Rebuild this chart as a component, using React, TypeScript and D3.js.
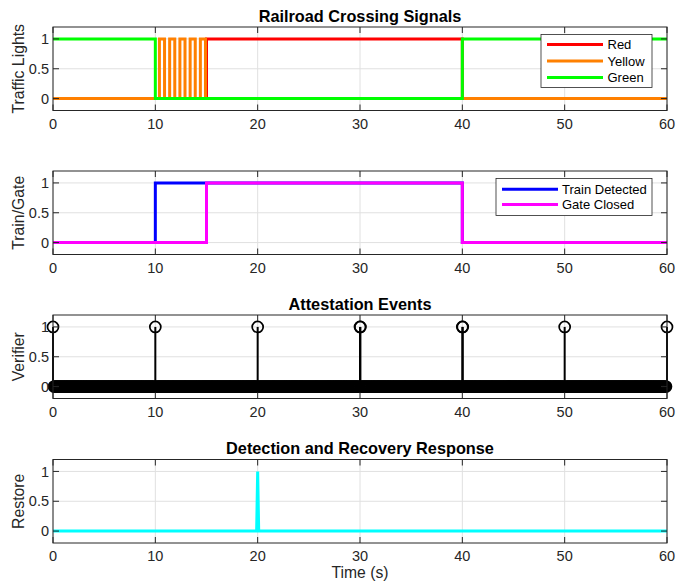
import React from "react";
import * as d3 from "d3";

// ---- Data ----
const xTicks = [0, 10, 20, 30, 40, 50, 60];
const yTicks = [0, 0.5, 1];

// Subplot 1: traffic lights (time, value) breakpoints
const redT = [0, 15, 15, 40, 40, 60];
const redV = [0, 0, 1, 1, 0, 0];
const yellowT = [0, 10.4, 10.4, 10.9, 10.9, 11.4, 11.4, 11.9, 11.9, 12.4, 12.4, 12.9, 12.9, 13.4, 13.4, 13.9, 13.9, 14.4, 14.4, 14.9, 14.9, 60];
const yellowV = [0, 0, 1, 1, 0, 0, 1, 1, 0, 0, 1, 1, 0, 0, 1, 1, 0, 0, 1, 1, 0, 0];
const greenT = [0, 10, 10, 40, 40, 60];
const greenV = [1, 1, 0, 0, 1, 1];

// Subplot 2: train / gate
const trainT = [0, 10, 10, 40, 40, 60];
const trainV = [0, 0, 1, 1, 0, 0];
const gateT = [0, 15, 15, 40, 40, 60];
const gateV = [0, 0, 1, 1, 0, 0];

// Subplot 3: attestation events (stem), sampled every 0.1 s
const sampleStep = 0.1;
const attestEvents = [0, 10, 20, 30, 30.04, 40, 40.04, 50, 60];

// Subplot 4: restore
const restoreT = [0, 19.9, 20, 20.1, 60];
const restoreV = [0, 0, 1, 0, 0];

const X0 = 53, X1 = 667, H = 83.5;
const tops = [27, 171, 315, 459.5];
const FONT = "'Liberation Sans', Arial, Helvetica, sans-serif";
const AX = "#262626";

const x = d3.scaleLinear().domain([0, 60]).range([X0, X1]);

function Axes({ top, title, ylabel, children }: any) {
  const y = d3.scaleLinear().domain([-0.2, 1.2]).range([top + H, top]);
  const bottom = top + H;
  return (
    <g>
      {xTicks.map((t) => (
        <line key={"gx" + t} x1={x(t)} x2={x(t)} y1={top} y2={bottom} stroke="#e0e0e0" strokeWidth={1} />
      ))}
      {yTicks.map((t) => (
        <line key={"gy" + t} x1={X0} x2={X1} y1={y(t)} y2={y(t)} stroke="#e0e0e0" strokeWidth={1} />
      ))}
      {children(y)}
      <rect x={X0} y={top} width={X1 - X0} height={H} fill="none" stroke={AX} strokeWidth={1} />
      {xTicks.map((t) => (
        <g key={"tx" + t}>
          <line x1={x(t)} x2={x(t)} y1={bottom} y2={bottom - 6} stroke={AX} />
          <line x1={x(t)} x2={x(t)} y1={top} y2={top + 6} stroke={AX} />
          <text x={x(t)} y={bottom + 18} textAnchor="middle" fontSize={14.5} fill={AX} fontFamily={FONT}>{t}</text>
        </g>
      ))}
      {yTicks.map((t) => (
        <g key={"ty" + t}>
          <line x1={X0} x2={X0 + 6} y1={y(t)} y2={y(t)} stroke={AX} />
          <line x1={X1} x2={X1 - 6} y1={y(t)} y2={y(t)} stroke={AX} />
          <text x={X0 - 4} y={y(t)} dy="0.36em" textAnchor="end" fontSize={14.5} fill={AX} fontFamily={FONT}>{t}</text>
        </g>
      ))}
      {title && (
        <text x={(X0 + X1) / 2} y={top - 5.5} textAnchor="middle" fontSize={16.3} fontWeight="bold" fill="#000" fontFamily={FONT}>{title}</text>
      )}
      <text transform={`translate(18,${top + H / 2}) rotate(-90)`} dy="0.35em" textAnchor="middle" fontSize={15.8} fill={AX} fontFamily={FONT}>{ylabel}</text>
    </g>
  );
}

function path(ts: number[], vs: number[], y: any) {
  const line = d3.line<number>().x((_, i) => x(ts[i])).y((_, i) => y(vs[i]));
  return line(ts) || "";
}

function Legend({ x0, y0, w, h, items, lineX0, lineX1, textX, rowYs }: any) {
  return (
    <g>
      <rect x={x0} y={y0} width={w} height={h} fill="#fff" stroke={AX} strokeWidth={0.8} />
      {items.map((it: any, i: number) => (
        <g key={it.label}>
          <line x1={lineX0} x2={lineX1} y1={rowYs[i]} y2={rowYs[i]} stroke={it.color} strokeWidth={3} />
          <text x={textX} y={rowYs[i]} dy="0.35em" fontSize={13} fill="#000" fontFamily={FONT}>{it.label}</text>
        </g>
      ))}
    </g>
  );
}

export default function App() {
  const samples = d3.range(0, 60 + sampleStep / 2, sampleStep);
  const isEvent = (t: number) => attestEvents.some((e) => Math.abs(e - t) < 1e-6);
  return (
    <svg width={686} height={582} style={{ display: "block", position: "absolute", left: 0, top: 0 }}>
      <rect width={686} height={582} fill="#fff" />
      <Axes top={tops[0]} title="Railroad Crossing Signals" ylabel="Traffic Lights">
        {(y: any) => (
          <g fill="none" strokeWidth={3}>
            <path d={path(redT, redV, y)} stroke="#ff0000" />
            <path d={path(yellowT, yellowV, y)} stroke="#ff8000" />
            <path d={path(greenT, greenV, y)} stroke="#00ff00" />
          </g>
        )}
      </Axes>
      <Legend x0={541} y0={34.5} w={111} h={53} lineX0={547} lineX1={603} textX={607.5} rowYs={[44.5, 61, 77.5]}
        items={[{ label: "Red", color: "#ff0000" }, { label: "Yellow", color: "#ff8000" }, { label: "Green", color: "#00ff00" }]} />

      <Axes top={tops[1]} ylabel="Train/Gate">
        {(y: any) => (
          <g fill="none" strokeWidth={3}>
            <path d={path(trainT, trainV, y)} stroke="#0000ff" />
            <path d={path(gateT, gateV, y)} stroke="#ff00ff" />
          </g>
        )}
      </Axes>
      <Legend x0={496} y0={178.5} w={156} h={37} lineX0={502} lineX1={558} textX={562} rowYs={[189.3, 204.5]}
        items={[{ label: "Train Detected", color: "#0000ff" }, { label: "Gate Closed", color: "#ff00ff" }]} />

      <Axes top={tops[2]} title="Attestation Events" ylabel="Verifier">
        {(y: any) => (
          <g>
            {attestEvents.map((t) => (
              <line key={"s" + t} x1={x(t)} x2={x(t)} y1={y(0)} y2={y(1)} stroke="#000" strokeWidth={2} />
            ))}
            {samples.filter((t) => !isEvent(t)).map((t) => (
              <circle key={"c" + t} cx={x(t)} cy={y(0)} r={5.5} fill="none" stroke="#000" strokeWidth={1.7} />
            ))}
            {attestEvents.map((t) => (
              <circle key={"e" + t} cx={x(t)} cy={y(1)} r={5.5} fill="none" stroke="#000" strokeWidth={1.7} />
            ))}
          </g>
        )}
      </Axes>

      <Axes top={tops[3]} title="Detection and Recovery Response" ylabel="Restore">
        {(y: any) => (
          <path d={path(restoreT, restoreV, y)} fill="none" stroke="#00ffff" strokeWidth={3} />
        )}
      </Axes>
      <text x={(X0 + X1) / 2} y={577.5} textAnchor="middle" fontSize={15.7} fill={AX} fontFamily={FONT}>Time (s)</text>
    </svg>
  );
}
